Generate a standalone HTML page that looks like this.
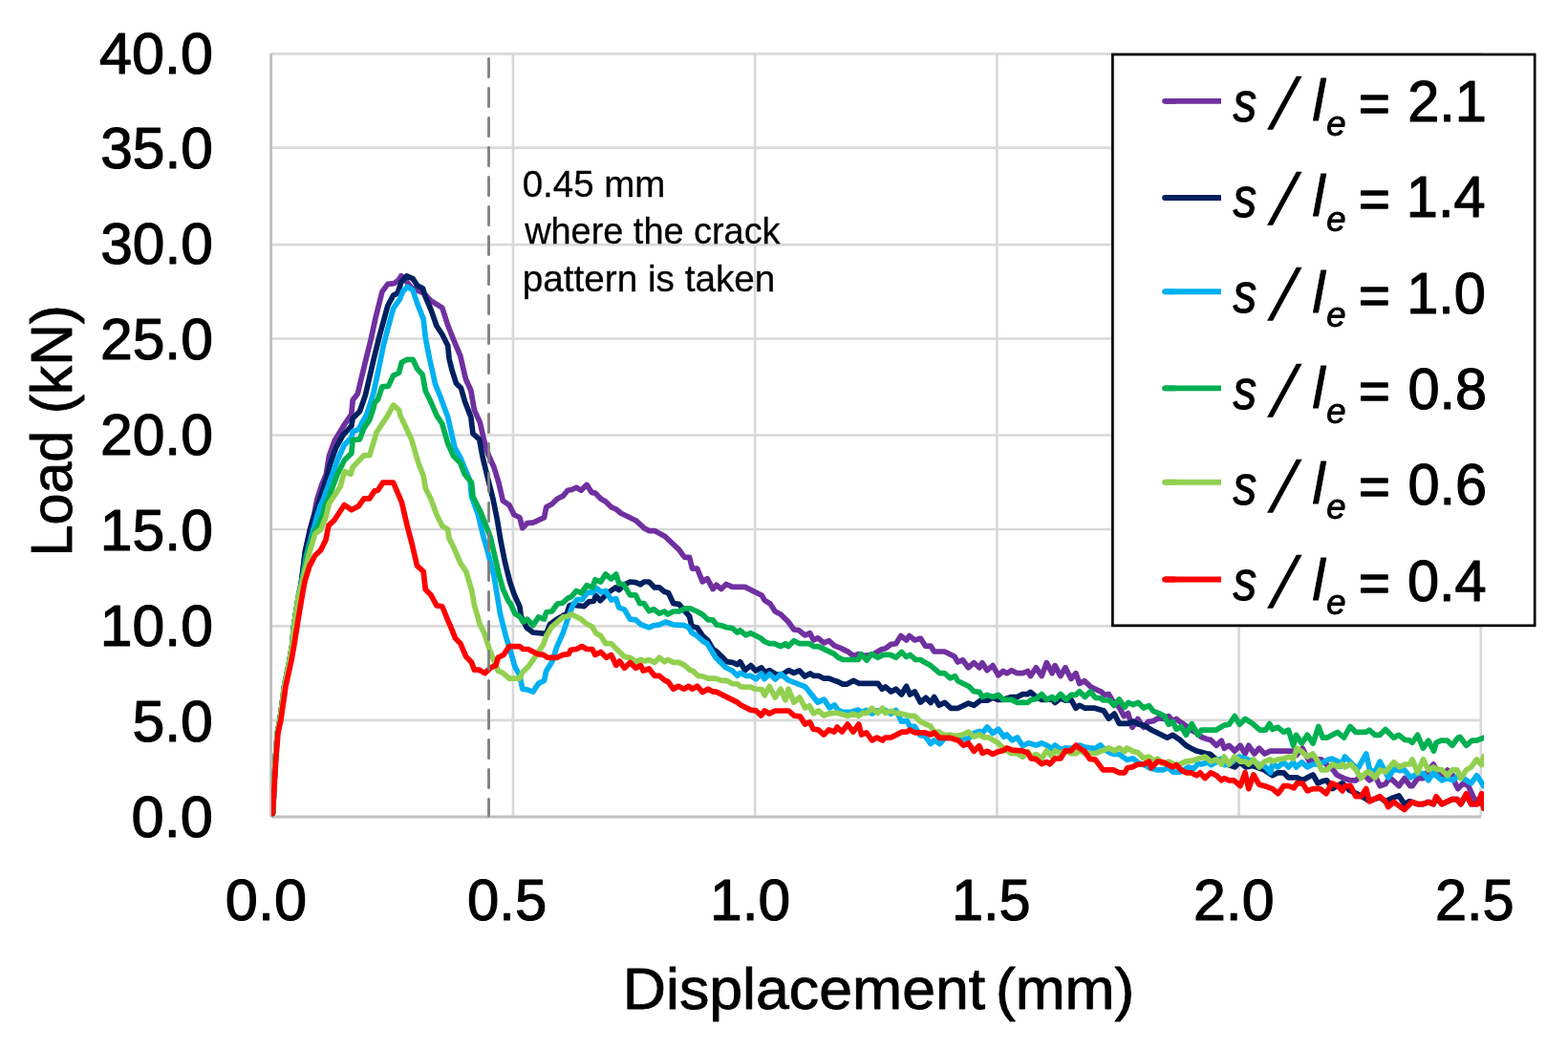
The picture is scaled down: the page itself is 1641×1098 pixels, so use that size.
<!DOCTYPE html>
<html lang="en"><head><meta charset="utf-8"><title>Load-displacement curves</title>
<style>html,body{margin:0;padding:0;background:#fff;}body{width:1641px;height:1098px;overflow:hidden;}svg{display:block;}text{font-family:'Liberation Sans',sans-serif;fill:#000;stroke:#000;stroke-linejoin:round;}</style>
</head><body>
<svg width="1641" height="1098" viewBox="0 0 1641 1098" role="img" aria-label="Load versus displacement curves">
<rect x="0" y="0" width="1641" height="1098" fill="#ffffff"/>
<defs><clipPath id="plotclip"><rect x="284.0" y="40" width="1269.0" height="820.0"/></clipPath></defs>
<g stroke="#D9D9D9" stroke-width="2.70" fill="none">
<line x1="283.6" y1="56.3" x2="1551.1" y2="56.3"/>
<line x1="283.6" y1="154.6" x2="1551.1" y2="154.6"/>
<line x1="283.6" y1="256.1" x2="1551.1" y2="256.1"/>
<line x1="283.6" y1="354.5" x2="1551.1" y2="354.5"/>
<line x1="283.6" y1="455.5" x2="1551.1" y2="455.5"/>
<line x1="283.6" y1="554.0" x2="1551.1" y2="554.0"/>
<line x1="283.6" y1="655.3" x2="1551.1" y2="655.3"/>
<line x1="283.6" y1="753.8" x2="1551.1" y2="753.8"/>
<line x1="536.9" y1="54.9" x2="536.9" y2="854.2"/>
<line x1="790.2" y1="54.9" x2="790.2" y2="854.2"/>
<line x1="1043.4" y1="54.9" x2="1043.4" y2="854.2"/>
<line x1="1296.6" y1="54.9" x2="1296.6" y2="854.2"/>
<line x1="1549.8" y1="54.9" x2="1549.8" y2="854.2"/>
</g>
<g stroke="#BFBFBF" stroke-width="2.90" fill="none">
<line x1="283.6" y1="56.3" x2="283.6" y2="855.0"/>
<line x1="284.0" y1="855.0" x2="1549.9" y2="855.0"/>
</g>
<g fill="none" stroke-width="5.70" stroke-linejoin="round" stroke-linecap="round" clip-path="url(#plotclip)" transform="translate(0 0.30)">
<polyline stroke="#7030A0" points="285.4,851.0 285.9,843.0 286.8,822.4 288.4,793.1 290.3,766.8 293.0,753.6 297.6,718.0 303.0,691.4 305.8,675.3 307.6,655.0 312.8,622.0 315.3,610.0 319.4,577.0 324.5,554.1 329.0,537.0 331.8,522.4 337.0,506.3 341.4,496.0 344.4,477.0 350.2,461.0 359.0,446.3 367.8,433.2 369.2,418.5 374.3,411.9 382.4,378.2 388.2,354.8 393.3,331.4 397.0,316.8 399.9,305.1 405.8,297.1 412.4,296.3 416.7,293.4 419.9,288.4 426.2,295.4 430.4,300.6 437.2,303.8 443.0,306.3 451.1,314.6 462.8,321.9 468.7,340.2 474.5,354.8 481.8,372.4 486.2,391.4 487.7,397.2 492.8,408.2 495.5,424.0 496.4,428.8 502.3,441.9 506.7,461.0 511.1,475.6 516.9,488.7 521.9,504.9 526.3,523.9 532.9,528.3 538.0,538.5 543.9,541.4 546.8,552.4 551.9,547.3 558.5,546.5 569.5,541.4 571.7,530.5 577.5,527.5 583.4,521.7 589.2,518.8 594.3,512.9 598.7,512.2 603.1,510.0 608.2,512.9 614.1,507.1 619.2,515.1 622.9,515.8 628.7,521.7 633.8,524.6 639.7,530.5 644.8,532.7 649.9,537.0 665.3,544.4 674.0,552.4 679.2,555.3 685.0,555.3 696.0,561.2 710.6,575.1 716.5,583.1 721.6,583.1 724.5,594.8 729.6,594.8 735.3,608.5 740.2,605.4 746.1,616.3 749.7,611.9 754.9,616.3 760.0,611.2 766.6,614.1 779.7,614.1 797.3,622.9 800.2,628.0 806.1,631.7 811.2,639.7 817.0,642.7 825.1,650.7 830.9,658.7 836.0,659.5 842.6,664.6 847.7,662.4 851.4,669.7 855.8,667.5 862.4,672.6 867.5,670.4 873.3,675.6 879.2,677.8 888.0,682.1 893.1,686.5 898.2,684.3 905.0,686.0 912.8,685.1 923.1,679.2 926.7,678.5 932.6,674.1 937.7,673.4 942.8,665.3 948.6,669.7 951.6,665.3 957.4,669.7 963.5,668.0 968.5,676.0 973.9,675.8 977.6,681.7 988.5,681.7 998.8,686.8 1002.4,692.7 1007.5,690.5 1013.4,698.5 1019.2,693.4 1025.1,698.5 1028.0,693.4 1033.1,701.4 1039.0,696.3 1044.8,706.5 1049.9,702.2 1053.6,704.4 1058.7,701.4 1064.6,704.4 1070.4,704.4 1075.5,702.2 1078.5,707.3 1084.3,698.5 1090.2,707.3 1095.3,693.4 1101.1,704.4 1104.1,696.3 1109.9,707.3 1115.0,698.5 1120.9,710.2 1126.0,704.4 1129.7,715.3 1134.8,712.4 1142.1,719.0 1153.1,724.1 1156.0,727.0 1160.4,726.3 1165.3,734.6 1171.1,739.7 1176.3,749.3 1180.6,746.3 1185.0,761.0 1190.9,752.2 1196.7,761.0 1201.8,755.1 1207.0,754.4 1212.1,751.4 1217.9,752.2 1223.1,749.3 1227.4,754.4 1231.1,752.2 1234.8,755.1 1240.6,758.8 1246.5,763.9 1252.3,766.8 1257.4,771.2 1263.3,773.4 1266.9,774.1 1273.2,780.0 1278.3,774.9 1281.2,782.9 1286.3,780.0 1292.2,785.8 1298.0,780.0 1303.1,788.7 1306.8,780.0 1312.7,788.7 1317.8,782.9 1323.6,788.7 1329.5,785.8 1353.6,785.8 1357.0,790.0 1363.1,782.9 1366.0,788.7 1370.4,796.8 1376.0,794.6 1382.9,794.6 1388.7,800.4 1395.3,805.6 1398.9,810.7 1406.3,814.3 1412.8,816.5 1418.7,816.5 1423.8,812.9 1428.0,811.0 1433.3,816.5 1439.2,812.1 1444.3,822.4 1450.1,820.2 1454.5,813.6 1464.0,822.4 1469.9,814.3 1475.7,822.4 1478.2,822.4 1483.8,814.3 1489.6,814.3 1495.1,806.0 1500.2,799.7 1503.8,806.3 1509.0,811.4 1514.8,805.6 1519.9,810.7 1522.9,819.5 1525.8,825.3 1531.6,819.5 1536.7,822.4 1544.1,838.5 1549.2,835.5 1552.8,841.4"/>
<polyline stroke="#002060" points="285.4,851.0 285.9,843.0 286.8,822.4 288.4,793.1 290.3,766.8 293.0,753.6 297.6,718.0 303.0,691.4 305.8,675.3 307.6,655.0 312.8,622.0 315.3,610.0 319.4,577.0 324.5,554.1 329.8,536.5 335.6,519.5 341.4,501.9 345.8,484.4 351.7,468.3 359.0,455.1 367.8,445.6 369.2,437.6 376.5,430.2 382.4,413.3 391.2,375.3 397.0,351.9 405.8,319.7 411.6,308.8 416.2,306.6 419.8,295.0 425.6,288.6 432.0,291.4 436.9,298.7 442.6,301.8 444.9,309.5 451.1,324.1 457.0,340.9 462.8,349.7 468.7,361.4 470.1,375.3 473.0,387.0 477.4,400.9 482.5,406.0 486.5,420.0 492.8,436.1 495.0,453.6 501.6,459.5 505.2,478.5 510.2,499.0 516.1,522.4 520.5,544.4 524.1,566.3 528.5,588.2 533.6,608.7 538.0,621.5 543.9,634.6 545.3,644.9 551.2,656.6 557.8,661.7 571.5,663.0 575.7,652.9 581.9,648.5 589.3,644.1 593.3,641.6 595.8,633.7 598.8,632.8 607.5,633.9 611.2,634.4 616.3,629.6 621.4,628.9 623.6,623.0 628.2,628.4 632.6,624.0 637.5,619.2 644.4,614.6 647.7,617.3 653.2,611.8 659.4,608.7 665.3,609.4 670.4,611.6 674.0,608.7 679.2,608.7 685.0,614.6 690.1,614.6 695.2,618.9 699.6,620.4 704.8,631.4 710.6,632.1 716.5,639.0 721.6,644.9 723.8,655.1 729.6,656.6 735.5,665.3 741.0,670.4 746.1,679.2 749.7,681.4 754.9,686.5 760.7,692.4 766.6,693.1 771.7,695.3 774.6,692.4 779.7,701.2 785.7,696.3 790.9,701.7 796.9,698.6 800.5,703.5 805.4,701.3 811.4,705.2 817.2,706.5 825.4,701.3 830.8,704.1 836.6,701.6 842.3,707.7 847.8,704.6 851.4,707.0 856.5,707.0 862.4,709.9 867.5,709.9 873.3,712.1 876.3,712.9 882.1,715.8 886.5,715.8 893.1,712.1 898.9,715.0 918.7,715.0 923.1,720.9 926.7,718.7 932.6,723.8 937.7,720.9 943.5,726.7 948.6,718.0 952.3,726.7 957.4,723.8 963.3,734.8 968.9,730.0 974.0,735.1 977.7,729.3 982.8,738.0 988.7,735.1 995.2,741.0 1002.6,741.0 1013.5,735.8 1019.4,738.0 1026.0,732.9 1033.3,732.9 1039.0,729.9 1044.0,732.0 1050.0,732.0 1058.7,729.2 1064.6,729.2 1070.4,726.3 1075.5,726.3 1078.5,724.1 1084.3,729.2 1090.2,732.1 1095.3,732.1 1101.0,731.5 1104.1,735.1 1109.9,730.7 1115.0,732.9 1120.9,732.1 1126.0,740.9 1129.7,738.0 1135.5,740.9 1145.7,740.9 1155.2,743.8 1160.4,751.9 1166.2,746.8 1171.3,757.0 1180.8,757.0 1186.0,754.8 1191.1,757.7 1198.2,759.5 1205.5,763.9 1221.6,771.9 1227.4,769.0 1234.8,774.1 1241.3,780.0 1246.5,782.9 1252.3,785.8 1258.2,787.3 1263.3,788.7 1265.9,788.7 1273.2,794.6 1281.0,798.5 1292.2,802.6 1297.3,797.5 1303.9,802.6 1311.2,801.2 1322.9,805.6 1331.7,811.4 1337.5,808.5 1343.4,808.5 1348.5,813.6 1357.3,813.6 1363.1,816.5 1368.2,813.6 1374.1,810.7 1379.2,819.5 1384.3,817.3 1388.7,816.5 1394.6,825.3 1404.8,819.5 1412.1,826.8 1418.7,829.7 1424.5,833.0 1433.0,838.0 1444.1,834.3 1449.9,838.5 1456.0,835.5 1464.0,832.6 1469.9,841.4 1475.0,838.5 1477.7,839.2 1483.6,841.4 1489.4,841.4 1494.9,839.2 1500.2,841.4 1503.1,834.3 1509.0,841.4 1519.9,836.3 1525.0,836.3 1528.7,841.4 1534.6,831.4 1539.7,841.4 1546.3,841.4 1550.6,831.4 1552.8,845.8"/>
<polyline stroke="#00B0F0" points="285.4,851.0 285.9,843.0 286.8,822.4 288.4,793.1 290.3,766.8 293.0,753.6 297.6,718.0 303.0,691.4 305.8,675.3 307.6,655.0 312.8,622.0 315.5,610.0 320.6,581.2 327.4,556.3 332.0,539.5 335.0,530.0 338.5,522.4 345.8,501.9 353.1,481.4 360.4,465.3 367.8,458.0 369.2,451.4 375.1,449.3 383.8,433.2 386.0,427.0 391.1,410.4 397.0,382.6 401.4,360.7 407.2,338.7 411.6,322.6 418.1,313.3 421.7,304.7 426.2,299.9 432.0,303.3 436.5,316.8 443.1,333.6 445.3,353.4 449.6,375.3 455.5,401.6 461.3,416.2 464.5,425.0 468.7,436.1 471.6,449.3 476.0,468.3 481.8,478.5 487.7,493.1 492.1,503.4 493.5,519.5 500.6,539.0 505.5,560.0 511.4,581.0 516.8,601.4 520.2,622.0 523.4,641.9 529.3,665.3 535.1,684.4 538.8,697.5 543.9,706.3 546.8,720.9 551.9,721.6 557.8,723.8 563.6,715.1 569.5,712.1 571.7,701.9 578.2,691.7 582.6,677.0 589.2,662.4 595.1,644.9 599.5,633.2 603.8,627.3 609.7,627.0 611.2,624.4 615.5,619.7 620.0,620.0 624.3,615.3 629.4,619.7 633.8,618.2 639.7,627.7 644.8,626.3 647.7,635.5 653.6,637.8 659.4,647.8 665.3,648.5 671.1,653.6 679.2,656.6 684.3,654.4 690.1,653.6 696.7,650.7 704.8,653.6 716.5,654.4 720.8,656.6 723.8,661.7 729.6,665.3 735.1,670.4 740.2,673.4 749.0,688.0 759.3,698.2 766.6,701.9 771.7,707.0 774.6,704.1 780.5,707.0 785.6,707.0 791.2,710.4 796.9,704.6 800.0,710.4 805.4,705.2 811.4,710.7 817.2,705.2 824.8,711.5 842.8,718.6 849.4,726.8 855.8,734.8 862.4,731.9 868.2,740.6 873.3,737.7 877.0,742.8 882.1,745.0 890.9,745.0 898.2,742.8 902.0,745.3 906.8,743.1 912.6,746.8 918.0,743.5 926.0,743.0 932.4,746.8 937.5,743.1 940.4,748.3 943.3,754.8 949.2,754.1 952.1,760.0 957.2,760.0 963.1,769.5 968.2,770.2 974.0,778.2 977.7,774.6 983.5,778.2 988.7,772.4 1004.8,771.7 1010.6,773.1 1013.4,773.1 1019.2,767.2 1025.1,765.0 1028.0,767.2 1033.1,760.7 1039.0,767.2 1044.8,762.9 1050.7,770.9 1053.6,768.7 1059.5,774.6 1064.6,771.6 1070.4,780.4 1076.3,777.5 1084.3,779.7 1090.2,777.5 1095.3,779.7 1101.1,783.3 1104.1,779.7 1109.9,784.1 1115.0,782.6 1121.0,783.0 1129.7,779.7 1135.5,781.9 1141.4,782.6 1145.7,783.3 1151.6,779.7 1156.0,784.0 1161.8,787.7 1166.2,789.2 1171.3,789.2 1179.4,795.0 1186.0,793.6 1191.1,798.0 1199.7,801.2 1202.6,803.4 1211.4,805.6 1217.2,805.6 1223.1,803.4 1227.4,807.8 1235.5,807.8 1243.5,802.6 1249.4,804.1 1253.8,799.0 1257.4,799.7 1264.0,797.5 1267.3,800.4 1273.2,797.5 1278.0,794.0 1281.9,800.4 1287.0,799.0 1296.6,791.7 1303.9,793.9 1312.0,797.0 1318.0,800.0 1324.4,802.6 1329.5,808.5 1331.7,799.7 1337.5,802.6 1343.4,797.5 1348.5,802.6 1353.6,797.5 1356.5,802.6 1362.4,797.5 1368.2,802.6 1374.1,799.7 1381.4,799.7 1388.7,795.3 1393.8,793.9 1400.4,796.8 1402.9,801.9 1407.5,791.7 1420.7,804.8 1429.8,788.7 1433.5,805.6 1439.0,807.8 1444.1,796.8 1452.9,813.6 1458.7,804.8 1464.6,806.3 1469.7,805.6 1476.3,813.6 1483.6,809.2 1489.4,809.2 1494.9,816.5 1500.2,808.5 1509.0,816.5 1514.8,814.3 1520.7,816.5 1525.8,811.4 1534.6,816.5 1539.7,819.5 1545.5,811.4 1552.8,822.4"/>
<polyline stroke="#00B050" points="285.4,851.0 285.9,843.0 286.8,822.4 288.4,793.1 290.3,766.8 293.0,753.6 297.6,718.0 303.0,691.4 305.8,675.3 307.6,655.0 312.8,622.0 315.8,610.0 322.2,576.8 329.8,554.9 333.0,550.5 338.0,538.0 340.6,528.0 344.4,519.5 353.1,496.0 360.4,481.4 367.8,474.1 369.2,460.2 376.5,459.5 380.9,447.8 386.8,439.0 391.2,425.9 391.9,421.4 395.5,417.7 399.9,404.5 406.5,403.8 411.6,392.8 417.5,389.9 420.4,379.0 426.2,376.0 432.1,376.0 436.5,385.5 442.3,392.1 445.3,408.9 450.4,419.2 457.0,434.6 462.8,443.4 468.7,463.9 474.5,477.0 481.8,484.4 486.2,496.0 493.5,504.8 495.0,519.5 502.3,534.1 506.0,543.0 513.2,561.9 517.6,580.9 521.9,599.9 526.3,616.0 532.2,629.2 534.4,631.7 538.8,641.9 543.9,644.9 547.5,650.7 551.9,647.8 557.8,654.4 563.6,645.6 569.5,647.8 571.7,640.5 577.5,639.7 583.4,631.7 588.5,631.0 594.3,625.9 598.0,624.4 603.1,618.2 608.2,620.4 614.1,612.4 619.9,614.6 622.9,606.5 628.7,608.7 633.8,600.7 639.7,605.8 644.8,600.7 647.7,610.2 652.8,611.6 659.4,622.6 665.3,622.6 669.7,631.4 674.0,631.4 679.2,639.2 684.3,637.4 690.1,641.9 695.2,639.7 698.9,642.7 704.8,639.7 710.6,639.7 716.5,636.6 722.3,636.6 729.6,639.7 735.9,643.4 741.0,648.5 746.1,648.5 749.7,653.6 754.9,654.4 760.7,656.5 766.6,657.3 771.7,661.7 774.6,659.5 780.5,664.6 785.6,662.4 795.8,667.5 800.2,671.2 805.3,673.4 810.4,673.4 817.0,676.3 822.1,673.4 825.1,676.3 830.9,670.4 836.8,673.4 847.0,673.4 851.4,676.3 856.5,676.3 873.3,684.3 876.3,687.3 882.1,690.2 898.2,690.2 901.1,684.3 907.0,690.9 912.1,684.3 918.7,688.0 924.5,685.1 931.8,685.1 937.7,688.0 943.5,682.1 948.6,687.3 952.3,685.1 958.2,690.2 963.3,690.2 965.9,691.9 973.9,696.3 983.4,704.4 988.5,704.4 994.4,709.5 999.5,707.3 1002.4,712.4 1014.1,718.2 1019.2,723.4 1025.1,724.1 1028.0,729.2 1033.1,727.0 1039.0,729.2 1044.8,727.0 1049.9,732.1 1058.7,732.1 1064.6,735.1 1075.5,735.1 1079.2,732.1 1084.3,731.4 1090.2,726.3 1095.3,732.1 1101.1,729.2 1104.1,732.1 1109.9,726.3 1115.8,732.1 1120.9,727.0 1126.0,727.0 1129.7,723.4 1135.5,729.2 1141.2,723.6 1146.3,730.0 1151.4,730.3 1154.3,732.5 1160.9,732.7 1166.0,738.2 1171.2,731.6 1177.1,740.1 1180.8,735.1 1186.0,737.3 1191.1,735.1 1196.9,740.7 1202.6,738.3 1207.0,744.1 1212.8,746.3 1218.7,749.3 1223.1,758.0 1227.4,755.1 1231.1,763.1 1236.2,760.2 1241.3,769.0 1247.2,757.3 1253.8,769.0 1257.4,763.9 1272.4,763.9 1281.2,758.8 1286.3,758.0 1292.2,749.3 1297.3,758.0 1303.1,752.2 1311.2,757.3 1318.5,763.9 1324.4,763.9 1328.7,757.3 1331.7,763.1 1337.5,761.0 1343.4,766.1 1348.5,763.9 1353.6,780.0 1356.5,769.0 1362.4,777.8 1368.2,769.0 1374.1,777.8 1379.9,760.2 1384.3,771.9 1388.7,771.9 1399.7,766.1 1406.5,771.9 1413.0,760.2 1418.9,766.1 1429.5,766.1 1433.1,763.9 1439.0,769.0 1444.1,769.0 1449.9,763.1 1458.7,771.9 1463.8,769.0 1470.4,774.1 1475.2,774.5 1478.0,777.0 1483.6,769.0 1489.4,782.9 1494.9,774.9 1500.5,785.8 1503.1,777.0 1508.2,774.9 1514.8,774.9 1519.9,780.0 1525.8,771.9 1528.0,771.2 1534.6,780.0 1540.4,774.9 1545.5,774.9 1552.8,771.9"/>
<polyline stroke="#92D050" points="285.4,851.0 285.9,843.0 286.8,822.4 288.4,793.1 290.3,766.8 293.0,753.6 297.6,718.0 303.0,691.4 305.8,675.3 307.6,655.0 312.8,622.0 316.0,610.0 323.4,579.7 329.7,558.5 335.6,554.1 341.0,541.0 344.4,526.8 356.1,509.2 360.4,493.1 367.0,496.0 369.2,488.7 380.9,476.3 386.8,476.3 394.1,452.2 405.8,434.6 411.6,423.7 417.5,428.8 418.9,434.6 430.6,459.5 437.9,484.4 443.1,497.5 445.3,510.7 451.1,522.4 457.0,538.5 462.8,550.2 468.7,553.8 470.1,563.3 475.0,573.0 481.8,589.0 487.7,597.8 493.5,616.8 496.4,632.9 502.3,653.4 506.7,662.1 512.5,680.0 517.6,693.1 521.2,701.9 526.3,704.1 532.9,709.9 543.9,709.9 546.8,703.4 552.7,697.5 558.5,689.5 568.7,674.1 571.7,665.3 577.5,655.8 583.4,650.7 589.2,645.6 593.6,644.9 598.0,642.7 608.2,647.8 614.1,652.9 619.9,655.8 623.6,662.4 628.7,665.3 633.8,673.4 639.7,673.4 653.6,687.3 659.4,688.0 665.3,692.4 670.4,690.2 674.8,691.7 679.2,690.2 685.0,693.1 690.1,688.0 695.2,692.4 698.9,690.2 704.8,693.1 710.6,693.1 716.5,696.1 722.3,701.2 725.2,701.9 730.4,707.0 735.9,707.7 741.0,709.9 749.0,709.9 754.9,712.1 760.7,712.1 766.6,715.4 771.7,715.6 775.3,718.6 785.6,718.8 791.4,721.2 797.3,721.2 800.2,727.5 805.3,718.0 811.2,729.7 817.0,720.9 822.1,732.6 825.1,720.9 830.9,734.8 836.8,729.7 842.6,740.6 847.0,738.4 851.4,746.5 856.5,743.6 862.4,748.7 867.5,746.5 876.3,745.8 879.0,746.8 887.0,749.0 892.9,746.8 898.7,749.0 902.4,746.1 907.5,746.1 912.6,741.0 918.5,746.1 923.6,741.0 926.5,746.1 932.4,743.9 937.5,746.1 943.3,746.8 952.1,749.0 957.2,749.0 963.1,754.8 965.9,756.3 973.9,759.9 977.6,765.8 982.7,765.8 988.5,769.4 994.4,768.7 999.5,770.2 1007.5,768.7 1013.4,765.8 1019.2,770.9 1025.1,768.7 1030.2,771.6 1034.6,771.6 1044.8,777.5 1049.9,782.6 1053.6,785.5 1058.7,788.4 1064.6,788.4 1070.4,792.1 1075.5,786.3 1079.2,792.1 1084.3,789.2 1090.2,793.6 1095.3,785.5 1101.1,791.4 1104.1,785.5 1109.9,788.4 1115.0,785.5 1120.9,788.4 1126.0,788.4 1129.7,785.5 1135.5,788.4 1142.1,788.4 1147.0,788.0 1155.2,784.8 1160.4,782.6 1166.2,785.5 1171.3,782.6 1177.2,786.3 1179.4,782.6 1186.0,786.3 1191.1,787.5 1196.7,793.1 1202.6,791.7 1207.0,796.1 1211.4,793.9 1217.2,799.0 1223.1,796.8 1228.9,799.7 1235.0,799.7 1240.6,796.8 1246.5,796.1 1253.8,793.9 1261.1,791.7 1267.1,796.8 1273.2,794.6 1278.3,799.7 1281.2,791.7 1286.3,799.7 1292.2,791.7 1298.0,796.8 1303.1,796.8 1306.8,799.7 1311.9,794.6 1317.8,802.6 1323.6,796.8 1329.5,794.6 1331.7,796.8 1337.5,794.6 1343.4,793.9 1349.2,791.7 1353.6,793.9 1357.3,782.9 1362.4,786.5 1368.2,791.7 1374.1,788.7 1379.2,796.8 1382.9,805.6 1388.7,805.6 1394.6,799.7 1400.2,802.3 1404.6,799.7 1407.5,802.6 1413.4,799.7 1418.9,805.2 1424.3,814.3 1429.5,808.5 1433.1,807.8 1439.0,813.6 1444.1,805.6 1449.9,807.8 1458.7,797.5 1464.6,802.6 1470.4,799.7 1475.5,799.7 1478.0,794.6 1483.6,808.5 1489.4,794.6 1494.9,805.6 1500.2,802.6 1503.1,804.8 1509.0,805.6 1514.8,811.4 1519.9,805.6 1525.0,805.6 1528.7,814.3 1534.6,805.6 1539.7,802.6 1545.5,794.6 1550.6,800.4 1552.8,791.7"/>
<polyline stroke="#FF0000" points="285.4,851.0 285.9,843.0 287.1,822.4 288.9,793.1 291.0,766.8 293.9,753.6 299.0,718.0 304.9,691.4 307.8,675.3 312.2,647.5 316.6,621.2 319.3,607.0 324.0,592.0 329.7,581.2 335.6,575.6 341.0,564.6 344.0,549.5 350.0,544.0 360.4,528.2 367.8,533.3 375.1,529.7 380.9,521.6 386.8,521.6 391.9,513.6 395.5,512.9 400.7,504.8 411.6,504.8 420.4,525.3 426.2,550.2 431.4,570.0 436.5,591.9 443.1,597.8 445.3,616.8 451.1,622.7 457.0,633.6 462.8,634.4 468.7,649.0 471.6,655.6 476.7,668.0 481.8,673.1 487.7,687.0 493.5,692.9 496.4,700.9 501.6,700.9 507.4,704.3 513.6,698.5 519.0,696.1 521.2,688.0 527.1,685.1 532.9,676.3 543.9,676.3 547.5,679.2 552.7,679.2 562.9,684.4 568.7,685.1 573.1,688.0 582.6,688.0 589.2,685.1 595.1,684.4 597.3,680.0 603.1,679.2 609.0,676.3 614.1,679.2 619.9,679.2 622.9,685.1 628.7,682.2 634.6,688.0 639.7,685.1 644.8,696.1 648.4,691.7 653.6,699.0 659.4,693.1 665.3,699.0 670.4,696.1 673.3,701.9 679.2,699.7 685.0,707.0 690.1,707.0 696.0,712.1 698.9,712.9 704.8,720.9 709.9,718.0 715.7,720.9 720.8,718.0 724.5,720.9 729.6,718.0 735.3,724.2 741.0,720.9 746.1,723.8 749.7,723.8 771.7,734.8 775.3,737.7 785.6,742.8 791.4,743.6 796.5,748.7 800.2,743.7 805.2,746.7 811.1,743.7 825.4,743.7 831.2,748.9 837.4,749.6 842.4,757.8 847.5,755.6 851.2,762.9 856.3,763.6 862.2,768.7 867.3,763.6 873.1,765.8 876.1,760.7 881.2,765.8 887.0,757.8 892.9,765.8 898.7,757.8 901.6,768.7 906.8,766.5 912.6,774.6 917.7,771.7 923.6,774.6 926.5,771.7 932.4,771.7 944.1,765.8 949.2,765.8 952.1,763.6 957.2,766.5 968.2,766.5 974.0,768.7 977.7,766.5 983.2,772.0 994.0,772.0 1002.8,774.6 1008.4,780.0 1013.4,777.5 1019.3,786.0 1024.8,780.4 1028.1,788.1 1033.2,786.0 1039.0,789.2 1044.8,786.3 1049.9,785.5 1053.6,782.6 1059.5,784.8 1069.7,785.5 1075.5,787.7 1079.2,793.6 1084.3,794.3 1090.2,799.4 1095.3,797.2 1098.9,799.4 1104.1,793.6 1109.9,793.6 1115.0,785.5 1120.9,785.5 1126.2,779.8 1130.4,783.3 1135.0,786.0 1140.5,794.1 1146.3,794.8 1154.3,805.6 1165.3,805.6 1171.1,808.5 1177.0,808.5 1179.9,803.4 1185.0,802.6 1190.9,799.7 1196.7,799.7 1202.6,796.8 1204.8,803.4 1211.4,796.8 1217.2,797.5 1227.4,802.6 1231.1,800.4 1236.2,805.6 1241.3,808.5 1246.5,808.5 1252.3,811.4 1256.0,808.5 1261.1,814.3 1267.1,808.5 1273.2,811.4 1278.3,816.5 1281.2,814.3 1286.3,816.5 1291.4,816.5 1298.0,822.4 1303.1,808.5 1306.8,825.3 1311.9,810.7 1317.8,820.9 1323.6,822.4 1331.7,825.3 1337.5,830.4 1343.4,822.4 1348.5,822.4 1354.3,824.6 1357.3,819.5 1363.1,819.5 1368.2,827.5 1374.1,825.3 1381.4,825.3 1388.0,830.4 1393.8,819.5 1400.2,822.4 1404.9,827.5 1407.5,822.4 1413.4,822.4 1418.8,833.3 1424.3,833.3 1429.8,825.3 1433.1,838.5 1444.1,833.3 1449.9,838.5 1452.9,844.3 1458.7,839.2 1463.8,842.9 1469.7,847.2 1477.7,839.2 1483.6,841.4 1489.4,841.4 1494.9,839.2 1500.2,841.4 1503.1,833.3 1509.0,841.4 1519.9,836.3 1525.0,836.3 1528.7,841.4 1534.6,830.4 1539.7,841.4 1546.3,841.4 1550.6,830.4 1552.8,845.8"/>
</g>
<rect x="1164.4" y="57.0" width="441.8" height="597.8" fill="#ffffff" stroke="#000000" stroke-width="2.70"/>
<line x1="1219.1" y1="105.85" x2="1229.1" y2="105.85" stroke="#7030A0" stroke-width="5.90" stroke-linecap="round"/>
<line x1="1219.1" y1="105.85" x2="1278.0" y2="105.85" stroke="#7030A0" stroke-width="5.90" stroke-linecap="butt"/>
<text x="1290.45" y="126.90" font-size="58.80" textLength="24.70" lengthAdjust="spacingAndGlyphs" font-style="italic" stroke-width="1.00">s</text>
<text transform="translate(1326.30 135.00) skewX(-15.30)" x="0" y="0" font-size="76.40" stroke-width="0.00">/</text>
<text x="1373.48" y="126.30" font-size="61.40" textLength="12.97" lengthAdjust="spacingAndGlyphs" font-style="italic" stroke-width="1.00">l</text>
<text x="1388.30" y="141.60" font-size="37.80" textLength="20.33" lengthAdjust="spacingAndGlyphs" font-style="italic" stroke-width="0.90">e</text>
<text x="1422.06" y="127.30" font-size="55.50" textLength="32.91" lengthAdjust="spacingAndGlyphs" stroke-width="1.40">=</text>
<text x="1473.21" y="127.30" font-size="61.20" textLength="82.70" lengthAdjust="spacingAndGlyphs" stroke-width="1.20">2.1</text>
<line x1="1219.1" y1="207.00" x2="1229.1" y2="207.00" stroke="#002060" stroke-width="5.90" stroke-linecap="round"/>
<line x1="1219.1" y1="207.00" x2="1278.0" y2="207.00" stroke="#002060" stroke-width="5.90" stroke-linecap="butt"/>
<text x="1290.45" y="227.00" font-size="58.80" textLength="24.70" lengthAdjust="spacingAndGlyphs" font-style="italic" stroke-width="1.00">s</text>
<text transform="translate(1326.30 235.10) skewX(-15.30)" x="0" y="0" font-size="76.40" stroke-width="0.00">/</text>
<text x="1373.48" y="226.40" font-size="61.40" textLength="12.97" lengthAdjust="spacingAndGlyphs" font-style="italic" stroke-width="1.00">l</text>
<text x="1388.30" y="241.70" font-size="37.80" textLength="20.33" lengthAdjust="spacingAndGlyphs" font-style="italic" stroke-width="0.90">e</text>
<text x="1422.06" y="227.40" font-size="55.50" textLength="32.91" lengthAdjust="spacingAndGlyphs" stroke-width="1.40">=</text>
<text x="1471.86" y="227.40" font-size="61.20" textLength="82.70" lengthAdjust="spacingAndGlyphs" stroke-width="1.20">1.4</text>
<line x1="1219.1" y1="305.30" x2="1229.1" y2="305.30" stroke="#00B0F0" stroke-width="5.90" stroke-linecap="round"/>
<line x1="1219.1" y1="305.30" x2="1278.0" y2="305.30" stroke="#00B0F0" stroke-width="5.90" stroke-linecap="butt"/>
<text x="1290.45" y="327.30" font-size="58.80" textLength="24.70" lengthAdjust="spacingAndGlyphs" font-style="italic" stroke-width="1.00">s</text>
<text transform="translate(1326.30 335.40) skewX(-15.30)" x="0" y="0" font-size="76.40" stroke-width="0.00">/</text>
<text x="1373.48" y="326.70" font-size="61.40" textLength="12.97" lengthAdjust="spacingAndGlyphs" font-style="italic" stroke-width="1.00">l</text>
<text x="1388.30" y="342.00" font-size="37.80" textLength="20.33" lengthAdjust="spacingAndGlyphs" font-style="italic" stroke-width="0.90">e</text>
<text x="1422.06" y="327.70" font-size="55.50" textLength="32.91" lengthAdjust="spacingAndGlyphs" stroke-width="1.40">=</text>
<text x="1472.15" y="327.70" font-size="61.20" textLength="82.70" lengthAdjust="spacingAndGlyphs" stroke-width="1.20">1.0</text>
<line x1="1219.1" y1="406.40" x2="1229.1" y2="406.40" stroke="#00B050" stroke-width="5.90" stroke-linecap="round"/>
<line x1="1219.1" y1="406.40" x2="1278.0" y2="406.40" stroke="#00B050" stroke-width="5.90" stroke-linecap="butt"/>
<text x="1290.45" y="427.90" font-size="58.80" textLength="24.70" lengthAdjust="spacingAndGlyphs" font-style="italic" stroke-width="1.00">s</text>
<text transform="translate(1326.30 436.00) skewX(-15.30)" x="0" y="0" font-size="76.40" stroke-width="0.00">/</text>
<text x="1373.48" y="427.30" font-size="61.40" textLength="12.97" lengthAdjust="spacingAndGlyphs" font-style="italic" stroke-width="1.00">l</text>
<text x="1388.30" y="442.60" font-size="37.80" textLength="20.33" lengthAdjust="spacingAndGlyphs" font-style="italic" stroke-width="0.90">e</text>
<text x="1422.06" y="428.30" font-size="55.50" textLength="32.91" lengthAdjust="spacingAndGlyphs" stroke-width="1.40">=</text>
<text x="1473.39" y="428.30" font-size="61.20" textLength="82.70" lengthAdjust="spacingAndGlyphs" stroke-width="1.20">0.8</text>
<line x1="1219.1" y1="504.70" x2="1229.1" y2="504.70" stroke="#92D050" stroke-width="5.90" stroke-linecap="round"/>
<line x1="1219.1" y1="504.70" x2="1278.0" y2="504.70" stroke="#92D050" stroke-width="5.90" stroke-linecap="butt"/>
<text x="1290.45" y="528.00" font-size="58.80" textLength="24.70" lengthAdjust="spacingAndGlyphs" font-style="italic" stroke-width="1.00">s</text>
<text transform="translate(1326.30 536.10) skewX(-15.30)" x="0" y="0" font-size="76.40" stroke-width="0.00">/</text>
<text x="1373.48" y="527.40" font-size="61.40" textLength="12.97" lengthAdjust="spacingAndGlyphs" font-style="italic" stroke-width="1.00">l</text>
<text x="1388.30" y="542.70" font-size="37.80" textLength="20.33" lengthAdjust="spacingAndGlyphs" font-style="italic" stroke-width="0.90">e</text>
<text x="1422.06" y="528.40" font-size="55.50" textLength="32.91" lengthAdjust="spacingAndGlyphs" stroke-width="1.40">=</text>
<text x="1473.41" y="528.40" font-size="61.20" textLength="82.70" lengthAdjust="spacingAndGlyphs" stroke-width="1.20">0.6</text>
<line x1="1219.1" y1="606.50" x2="1229.1" y2="606.50" stroke="#FF0000" stroke-width="5.90" stroke-linecap="round"/>
<line x1="1219.1" y1="606.50" x2="1278.0" y2="606.50" stroke="#FF0000" stroke-width="5.90" stroke-linecap="butt"/>
<text x="1290.45" y="628.30" font-size="58.80" textLength="24.70" lengthAdjust="spacingAndGlyphs" font-style="italic" stroke-width="1.00">s</text>
<text transform="translate(1326.30 636.40) skewX(-15.30)" x="0" y="0" font-size="76.40" stroke-width="0.00">/</text>
<text x="1373.48" y="627.70" font-size="61.40" textLength="12.97" lengthAdjust="spacingAndGlyphs" font-style="italic" stroke-width="1.00">l</text>
<text x="1388.30" y="643.00" font-size="37.80" textLength="20.33" lengthAdjust="spacingAndGlyphs" font-style="italic" stroke-width="0.90">e</text>
<text x="1422.06" y="628.70" font-size="55.50" textLength="32.91" lengthAdjust="spacingAndGlyphs" stroke-width="1.40">=</text>
<text x="1472.97" y="628.70" font-size="61.20" textLength="82.70" lengthAdjust="spacingAndGlyphs" stroke-width="1.20">0.4</text>
<line x1="511.5" y1="61.4" x2="511.5" y2="854.0" stroke="#7F7F7F" stroke-width="2.80" stroke-linecap="round" stroke-dasharray="19.30 11.70"/>
<text x="546.65" y="205.60" font-size="38.10" textLength="149.73" lengthAdjust="spacingAndGlyphs" stroke-width="0.30">0.45 mm</text>
<text x="549.18" y="255.10" font-size="38.10" textLength="267.38" lengthAdjust="spacingAndGlyphs" stroke-width="0.30">where the crack</text>
<text x="546.65" y="305.10" font-size="38.10" textLength="264.72" lengthAdjust="spacingAndGlyphs" stroke-width="0.30">pattern is taken</text>
<text x="104.09" y="76.50" font-size="61.90" textLength="118.82" lengthAdjust="spacingAndGlyphs" stroke-width="1.20">40.0</text>
<text x="105.22" y="176.30" font-size="61.90" textLength="117.67" lengthAdjust="spacingAndGlyphs" stroke-width="1.20">35.0</text>
<text x="105.22" y="276.20" font-size="61.90" textLength="117.67" lengthAdjust="spacingAndGlyphs" stroke-width="1.20">30.0</text>
<text x="104.93" y="376.10" font-size="61.90" textLength="117.96" lengthAdjust="spacingAndGlyphs" stroke-width="1.20">25.0</text>
<text x="104.93" y="476.00" font-size="61.90" textLength="117.96" lengthAdjust="spacingAndGlyphs" stroke-width="1.20">20.0</text>
<text x="104.86" y="575.90" font-size="61.90" textLength="118.04" lengthAdjust="spacingAndGlyphs" stroke-width="1.20">15.0</text>
<text x="104.86" y="675.80" font-size="61.90" textLength="118.04" lengthAdjust="spacingAndGlyphs" stroke-width="1.20">10.0</text>
<text x="138.46" y="775.70" font-size="61.90" textLength="84.44" lengthAdjust="spacingAndGlyphs" stroke-width="1.20">5.0</text>
<text x="137.60" y="875.60" font-size="61.90" textLength="85.32" lengthAdjust="spacingAndGlyphs" stroke-width="1.20">0.0</text>
<text x="235.80" y="963.40" font-size="61.90" textLength="85.22" lengthAdjust="spacingAndGlyphs" stroke-width="1.20">0.0</text>
<text x="489.04" y="963.40" font-size="61.90" textLength="83.11" lengthAdjust="spacingAndGlyphs" stroke-width="1.20">0.5</text>
<text x="743.07" y="963.40" font-size="61.90" textLength="84.13" lengthAdjust="spacingAndGlyphs" stroke-width="1.20">1.0</text>
<text x="995.94" y="963.40" font-size="61.90" textLength="82.60" lengthAdjust="spacingAndGlyphs" stroke-width="1.20">1.5</text>
<text x="1248.92" y="963.40" font-size="61.90" textLength="84.58" lengthAdjust="spacingAndGlyphs" stroke-width="1.20">2.0</text>
<text x="1501.98" y="963.40" font-size="61.90" textLength="82.67" lengthAdjust="spacingAndGlyphs" stroke-width="1.20">2.5</text>
<text x="651.82" y="1056.00" font-size="61.60" textLength="379.40" lengthAdjust="spacingAndGlyphs" stroke-width="0.90">Displacement</text>
<text x="1041.88" y="1056.00" font-size="61.60" textLength="145.45" lengthAdjust="spacingAndGlyphs" stroke-width="0.90">(mm)</text>
<text transform="rotate(-90)" x="-582.43" y="74.80" font-size="61.80" textLength="131.71" lengthAdjust="spacingAndGlyphs" stroke-width="0.90">Load</text>
<text transform="rotate(-90)" x="-433.32" y="74.80" font-size="61.80" textLength="114.35" lengthAdjust="spacingAndGlyphs" stroke-width="0.90">(kN)</text>
</svg>
</body></html>
